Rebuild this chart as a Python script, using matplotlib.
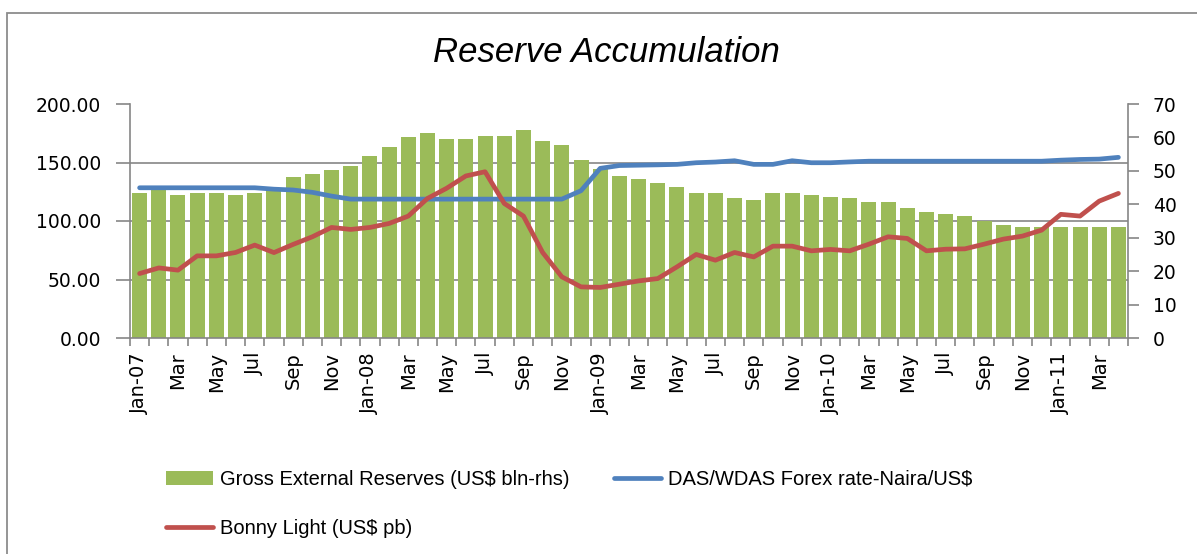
import numpy as np
import matplotlib
matplotlib.use('Agg')
import matplotlib.pyplot as plt
from matplotlib.patches import Rectangle
from matplotlib.ticker import FixedLocator

plt.rcParams['font.family'] = ['DejaVu Sans']

# monthly data, Jan-07 .. Apr-11
reserves = [43.5, 44.3, 42.9, 43.5, 43.5, 42.9, 43.5, 44.3, 48.1, 49.1, 50.4, 51.5,
            54.4, 57.1, 60.0, 61.2, 59.4, 59.4, 60.5, 60.5, 62.2, 58.8, 57.8, 53.2,
            50.5, 48.5, 47.5, 46.3, 45.2, 43.5, 43.5, 41.8, 41.2, 43.5, 43.5, 42.9,
            42.3, 41.8, 40.6, 40.6, 38.9, 37.8, 37.2, 36.6, 35.1, 33.8, 33.2, 33.2,
            33.2, 33.2, 33.2, 33.2]
forex = [128.4, 128.4, 128.4, 128.4, 128.4, 128.4, 128.4, 127.2, 126.5, 124.5, 121.3, 118.7,
         118.7, 118.7, 118.7, 118.7, 118.7, 118.7, 118.7, 118.7, 118.7, 118.7, 118.7, 125.9,
         145.0, 147.4, 147.7, 148.0, 148.4, 149.8, 150.4, 151.5, 148.4, 148.4, 151.5, 149.8,
         149.8, 150.5, 151.1, 151.1, 151.1, 151.1, 151.1, 151.1, 151.1, 151.1, 151.1, 151.1,
         152.0, 152.6, 152.9, 154.4]
bonny = [55.1, 59.9, 58.0, 70.2, 70.2, 73.1, 79.4, 73.0, 80.0, 86.5, 94.5, 92.8,
         94.5, 97.9, 104.2, 119.3, 128.0, 138.5, 142.1, 115.0, 104.2, 73.1, 52.3, 43.7,
         43.2, 46.0, 48.8, 50.8, 60.8, 71.4, 66.5, 73.1, 69.3, 78.5, 78.5, 74.5,
         75.7, 74.5, 80.2, 86.5, 85.1, 74.5, 75.9, 76.2, 80.2, 84.5, 87.1, 92.2,
         105.7, 104.2, 117.0, 123.6]
tick_labels = ['Jan-07', 'Mar', 'May', 'Jul', 'Sep', 'Nov',
               'Jan-08', 'Mar', 'May', 'Jul', 'Sep', 'Nov',
               'Jan-09', 'Mar', 'May', 'Jul', 'Sep', 'Nov',
               'Jan-10', 'Mar', 'May', 'Jul', 'Sep', 'Nov',
               'Jan-11', 'Mar']

W, H = 1197, 554
grey = '#868686'
x = np.arange(len(reserves))

fig = plt.figure(figsize=(W / 100, H / 100), dpi=100)
fig.patches.append(Rectangle((7 / W, -0.1), 1.2, 1.1 - 13 / H, transform=fig.transFigure,
                             fill=False, edgecolor='#8c8c8c', lw=1.3))

axb = fig.add_axes([130 / W, 1 - 338 / H, 998 / W, 234 / H])
bars = axb.bar(x, reserves, width=0.78, color='#9BBB59', zorder=2)
axb.set_xlim(-0.5, len(x) - 0.5)
axb.set_ylim(0, 70)

axl = axb.twinx()
l_fx, = axl.plot(x, forex, color='#4F81BD', lw=3.4, solid_capstyle='round')
l_bl, = axl.plot(x, bonny, color='#C0504D', lw=3.4, solid_capstyle='round')
axl.set_ylim(0, 200)
axb.yaxis.tick_right()
axl.yaxis.tick_left()

# right axis (reserves)
axb.set_yticks(range(0, 71, 10))
axb.yaxis.set_minor_locator(FixedLocator([17.5, 35, 52.5, 70]))
axb.grid(which='minor', axis='y', color=grey, lw=1.2)
axb.set_axisbelow(True)
axb.tick_params(axis='y', which='major', direction='out', length=8, width=1.2,
                color=grey, pad=10, labelsize=13.5)
axb.tick_params(axis='y', which='minor', length=0)

# left axis
axl.set_yticks(range(0, 201, 50))
axl.set_yticklabels(['%.2f' % v for v in range(0, 201, 50)])
axl.tick_params(axis='y', direction='out', length=10, width=1.2, color=grey,
                pad=11, labelsize=13.5)

# x axis: ticks between months, labels every other month
axb.set_xticks(np.arange(-0.5, len(x), 1))
axb.set_xticklabels([])
axb.set_xticks(x[::2], tick_labels, minor=True)
axb.tick_params(axis='x', which='major', direction='out', length=6, width=1.2, color=grey)
axb.tick_params(axis='x', which='minor', length=0, pad=10, labelsize=14, labelrotation=90)

for s in axl.spines.values():
    s.set_visible(False)
axb.spines['top'].set_visible(False)
for k in ['left', 'right', 'bottom']:
    axb.spines[k].set_color(grey)
    axb.spines[k].set_linewidth(1.2)

fig.text(606 / W, 1 - 53 / H, 'Reserve Accumulation', ha='center', va='center',
         fontsize=25, style='italic', family='Liberation Sans')

fig.legend([bars, l_bl, l_fx],
           ['Gross External Reserves (US$ bln-rhs)', 'Bonny Light (US$ pb)',
            'DAS/WDAS Forex rate-Naira/US$'],
           ncol=2, loc='upper left', bbox_to_anchor=(166 / W, 1 - 470 / H),
           frameon=False, borderpad=0, borderaxespad=0, handlelength=2.33,
           handletextpad=0.35, columnspacing=2.2, labelspacing=1.5,
           prop={'family': 'Liberation Sans', 'size': 14.5})

fig.savefig('out.png', dpi=100)
